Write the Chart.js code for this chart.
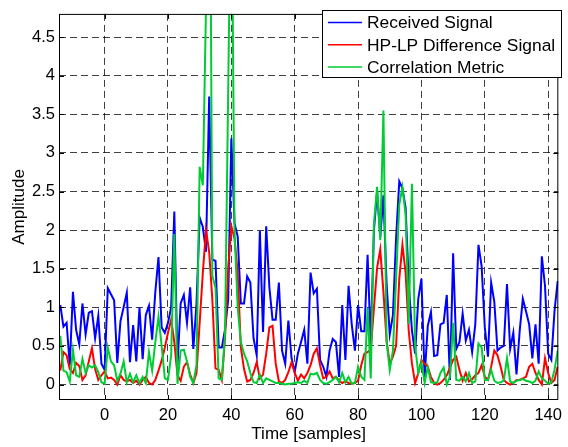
<!DOCTYPE html>
<html>
<head>
<meta charset="utf-8">
<script src="https://cdn.jsdelivr.net/npm/chart.js@4.4.0/dist/chart.umd.min.js"></script>
<style>
    html, body { margin: 0; padding: 0; background: #fff; }
    #marco { width: 568px; height: 447px; }
</style>
</head>
<body>
<div id="marco"><canvas id="grafica-senal"></canvas></div>
<script>
// first sample index shown on the time axis
const firstSample = -14;

const received = [
    1.03, 0.75, 0.8, 0.25, 1.2, 0.71, 0.52, 1.05, 0.65, 0.93,
    0.95, 0.6, 0.89, 0.27, 0.19, 1.25, 1.17, 1.09, 0.28, 0.82,
    1.0, 1.19, 0.29, 0.77, 0.3, 1.0, 0.33, 0.9, 1.02, 0.58,
    1.2, 1.65, 0.74, 0.67, 0.8, 1.0, 2.24, 0.25, 1.05, 1.16,
    0.8, 1.26, 0.46, 1.05, 2.16, 2.04, 1.72, 3.73, 1.62, 1.6,
    0.48, 0.48, 0.71, 1.1, 3.19, 2.09, 1.92, 1.05, 1.05, 1.4,
    1.32, 0.6, 0.38, 1.99, 0.68, 2.05, 1.26, 0.84, 0.84, 1.32,
    0.44, 0.27, 0.83, 0.34, 0.16, 0.4, 0.55, 0.71, 0.27, 1.45,
    1.18, 1.24, 0.32, 0.23, 0.1, 0.44, 0.59, 0.55, 0.1, 1.03,
    0.32, 1.28, 0.78, 0.44, 1.03, 0.69, 0.69, 1.68, 0.52, 2.0,
    2.5, 1.91, 2.45, 1.3, 0.65, 0.9, 1.9, 2.63, 2.54, 2.29,
    1.3, 0.7, 0.4, 1.11, 1.37, 0.1, 0.76, 0.94, 0.37, 0.38,
    0.78, 0.8, 1.16, 0.06, 1.7, 0.46, 0.55, 0.92, 0.57, 0.71,
    0.42, 0.78, 1.81, 1.53, 0.74, 0.36, 1.32, 1.07, 0.44, 0.48,
    0.5, 1.3, 0.46, 0.67, 0.13, 0.69, 1.11, 0.95, 0.78, 0.34,
    0.78, 0.27, 1.66, 1.28, 0.4, 0.32, 0.95, 1.34
];

const difference = [
    0.18, 0.42, 0.38, 0.2, 0.15, 0.28, 0.24, 0.06, 0.12, 0.3,
    0.47, 0.2, 0.06, 0.12, 0.17, 0.08, 0.09, 0.06, 0.0, 0.12,
    0.06, 0.04, 0.06, 0.02, 0.05, 0.0, 0.06, 0.1, 0.02, 0.0,
    0.06, 0.18, 0.31, 0.48, 0.67, 0.84, 0.55, 0.12, 0.05, 0.23,
    0.29, 0.13, 0.02, 0.15, 0.8, 1.45, 2.0, 1.72, 1.1, 0.21,
    0.19, 0.06, 0.6, 1.5, 2.05, 1.89, 1.45, 0.48, 0.2, 0.04,
    0.06, 0.15, 0.29, 0.08, 0.13, 0.4, 0.74, 0.76, 0.27, 0.04,
    0.02, 0.06, 0.16, 0.29, 0.15, 0.05, 0.13, 0.08, 0.15, 0.25,
    0.4, 0.47, 0.25, 0.08, 0.1, 0.17, 0.08, 0.1, 0.05, 0.02,
    0.04, 0.02, 0.01, 0.02, 0.05, 0.25, 0.4, 0.42, 0.45, 0.99,
    1.51, 1.75, 1.2, 0.57, 0.27, 0.36, 0.5, 1.37, 1.81, 1.45,
    0.69, 0.27, 0.02, 0.15, 0.32, 0.27, 0.23, 0.1, 0.02, 0.0,
    0.02, 0.06, 0.12, 0.22, 0.32, 0.36, 0.19, 0.05, 0.15, 0.04,
    0.07, 0.12, 0.15, 0.25, 0.1, 0.06, 0.23, 0.44, 0.38, 0.23,
    0.06, 0.02, 0.0, 0.02, 0.06, 0.06, 0.08, 0.1, 0.23, 0.27,
    0.15, 0.06, 0.0, 0.34, 0.15, 0.02, 0.06, 0.23
];

const correlation = [
    0.63, 0.18, 0.16, 0.04, 0.45, 0.12, 0.1, 0.33, 0.15, 0.25,
    0.22, 0.25, 0.16, 0.03, 0.01, 0.48, 0.3, 0.25, 0.05, 0.14,
    0.3, 0.03, 0.14, 0.03, 0.12, 0.02, 0.1, 0.02, 0.42, 0.18,
    0.55, 0.88, 0.5, 0.08, 0.06, 0.38, 1.95, 0.01, 0.44, 0.45,
    0.3, 0.1, 0.02, 0.25, 2.82, 2.58, 4.9, 9.0, 1.41, 1.25,
    0.08, 0.06, 0.65, 3.8, 7.0, 2.0, 1.0, 0.55, 0.4, 0.3,
    0.15, 0.03, 0.02, 0.13, 0.02, 0.08, 0.06, 0.04, 0.02, 0.02,
    0.01, 0.0, 0.01, 0.01, 0.02, 0.03, 0.02, 0.05, 0.02, 0.14,
    0.13, 0.15, 0.06, 0.02, 0.01, 0.03, 0.06, 0.1, 0.03, 0.15,
    0.03, 0.1, 0.01, 0.02, 0.23, 0.1, 0.06, 0.99, 0.08, 2.08,
    2.56, 1.87, 3.55, 0.55, 0.19, 0.44, 1.37, 2.33, 2.56, 2.2,
    0.78, 2.6, 0.5, 0.15, 0.29, 0.02, 0.23, 0.03, 0.02, 0.03,
    0.15, 0.22, 0.0, 0.1, 0.8, 0.06, 0.05, 0.1, 0.04, 0.15,
    0.02, 0.04, 0.53, 0.48, 0.06, 0.06, 0.19, 0.05, 0.02, 0.03,
    0.05, 0.34, 0.04, 0.02, 0.05, 0.06, 0.07, 0.05, 0.04, 0.02,
    0.05, 0.17, 0.08, 0.05, 0.01, 0.03, 0.19, 0.44
];

const seriesNames = ["Received Signal", "HP-LP Difference Signal", "Correlation Metric"];
const seriesColors = ["#0000ff", "#ff0000", "#00cc33"];
const xTicks = [0, 20, 40, 60, 80, 100, 120, 140];
const yTicks = [0, 0.5, 1, 1.5, 2, 2.5, 3, 3.5, 4, 4.5];

const fuente = "'Liberation Sans', Arial, sans-serif";

const samples = received.map((v, i) => firstSample + i);
function puntos(values) {
    return values.map((v, i) => ({ x: samples[i], y: v }));
}

// axes box, inward tick marks and the boxed legend (MATLAB look)
const marcoPlugin = {
    id: "marco",
    afterDatasetsDraw(chart) {
        const ctx = chart.ctx;
        const a = chart.chartArea;
        const sx = chart.scales.x;
        const sy = chart.scales.y;
        ctx.save();
        ctx.strokeStyle = "#000";
        ctx.lineWidth = 1;
        ctx.strokeRect(a.left + 0.5, a.top + 0.5, a.right - a.left - 1, a.bottom - a.top - 1);
        ctx.beginPath();
        xTicks.forEach(function (t) {
            const px = Math.round(sx.getPixelForValue(t)) + 0.5;
            ctx.moveTo(px, a.bottom); ctx.lineTo(px, a.bottom - 5);
            ctx.moveTo(px, a.top); ctx.lineTo(px, a.top + 5);
        });
        yTicks.forEach(function (t) {
            const py = Math.round(sy.getPixelForValue(t)) + 0.5;
            ctx.moveTo(a.left, py); ctx.lineTo(a.left + 5, py);
            ctx.moveTo(a.right, py); ctx.lineTo(a.right - 5, py);
        });
        ctx.stroke();

        // legend
        const bx = 322.5, by = 10.5, bw = 239, bh = 67;
        ctx.fillStyle = "#fff";
        ctx.fillRect(bx, by, bw, bh);
        ctx.strokeRect(bx, by, bw, bh);
        ctx.font = "17.4px " + fuente;
        ctx.textBaseline = "middle";
        chart.data.datasets.forEach(function (ds, i) {
            const ly = 22.5 + i * 22.3;
            ctx.strokeStyle = ds.borderColor;
            ctx.lineWidth = 1.5;
            ctx.beginPath();
            ctx.moveTo(328, ly); ctx.lineTo(362, ly);
            ctx.stroke();
            ctx.fillStyle = "#000";
            ctx.fillText(ds.label, 367, ly + 1);
        });
        ctx.restore();
    }
};

var grafica = new Chart(document.getElementById("grafica-senal").getContext("2d"), {
    type: "line",
    data: {
        datasets: [
            { label: seriesNames[0], data: puntos(received), borderColor: seriesColors[0], order: 3 },
            { label: seriesNames[1], data: puntos(difference), borderColor: seriesColors[1], order: 2 },
            { label: seriesNames[2], data: puntos(correlation), borderColor: seriesColors[2], order: 1 },
        ],
    },
    options: {
        animation: false,
        responsive: true,
        maintainAspectRatio: false,
        devicePixelRatio: 1,
        layout: { padding: { top: 4, right: 3, left: 0, bottom: 0 } },
        elements: {
            point: { radius: 0 },
            line: { borderWidth: 2, tension: 0, fill: false },
        },
        scales: {
            x: {
                type: "linear",
                min: -14.4,
                max: 143.2,
                afterBuildTicks: function (scale) {
                    scale.ticks = xTicks.map(function (v) { return { value: v }; });
                },
                afterFit: function (scale) { scale.height = 47; },
                ticks: {
                    autoSkip: false,
                    maxRotation: 0,
                    padding: 6,
                    color: "#000",
                    font: { family: fuente, size: 16.5 },
                    callback: function (v) { return String(v); },
                },
                grid: { drawTicks: false, color: "rgba(0,0,0,0.75)", lineWidth: 1 },
                border: { display: false, dash: [7, 4] },
                title: {
                    display: true,
                    text: "Time [samples]",
                    color: "#000",
                    font: { family: fuente, size: 17 },
                    padding: { top: 0, bottom: 2 },
                },
            },
            y: {
                type: "linear",
                min: -0.2,
                max: 4.8,
                afterBuildTicks: function (scale) {
                    scale.ticks = yTicks.map(function (v) { return { value: v }; });
                },
                afterFit: function (scale) { scale.width = 59; },
                ticks: {
                    padding: 4,
                    color: "#000",
                    font: { family: fuente, size: 16.5 },
                    callback: function (v) { return String(v); },
                },
                grid: { drawTicks: false, color: "rgba(0,0,0,0.75)", lineWidth: 1 },
                border: { display: false, dash: [7, 4] },
                title: {
                    display: true,
                    text: "Amplitude",
                    color: "#000",
                    font: { family: fuente, size: 17 },
                    padding: { top: 9, bottom: 0 },
                },
            },
        },
        plugins: {
            legend: { display: false },
            tooltip: { enabled: false },
        },
    },
    plugins: [marcoPlugin],
});
</script>
</body>
</html>
